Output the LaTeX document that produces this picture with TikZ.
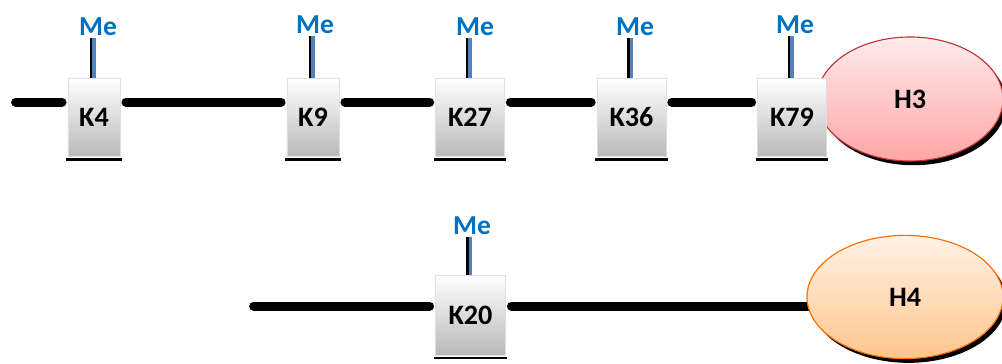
\documentclass[tikz,border=0pt]{standalone}
\usepackage{fontspec}
\setmainfont{Carlito}
\usepackage{tikz}
\usetikzlibrary{shapes.geometric}
\usetikzlibrary{shadows}
\definecolor{meblue}{RGB}{0,112,192}
\definecolor{stickblue}{RGB}{79,129,189}
\tikzstyle{backbone} = [draw, line width=6.4pt, line cap=round, shorten <=4pt, shorten >=4pt]
\tikzstyle{kbox} = [rectangle, draw=gray!25, top color=white, bottom color=gray!55, minimum height=1.95cm, font=\bfseries\fontsize{20}{24}\selectfont, inner sep=0pt]
\tikzstyle{kshort} = [kbox, minimum width=1.3cm]
\tikzstyle{klong} = [kbox, minimum width=1.72cm]
\tikzstyle{melabel} = [text=meblue, font=\bfseries\fontsize{19.5}{22}\selectfont, inner sep=0.5pt]
\tikzstyle{histone} = [ellipse, thick, font=\bfseries\fontsize{20}{24}\selectfont, drop shadow={fill=black, opacity=1, shadow xshift=2.5pt, shadow yshift=-3pt}]
\tikzstyle{hthree} = [histone, draw=red!70!black!80, top color=red!8, bottom color=red!35, minimum width=4.65cm, minimum height=3.1cm]
\tikzstyle{hfour} = [histone, draw=orange!85!red, top color=orange!10, bottom color=orange!45, minimum width=4.9cm, minimum height=3.08cm]
\tikzstyle{boxfoot} = [draw, line width=1.8pt]
\tikzstyle{stickshade} = [draw, line width=2pt]
\tikzstyle{stick} = [draw=stickblue, line width=2.2pt]

\begin{document}
\begin{tikzpicture} [x=0.025cm, y=-0.025cm]
\useasboundingbox (0,0) rectangle (1002,363);

% Histone H3 tail

\coordinate (row3) at (10,102);

\node[hthree] (h3) at (910,99) {H3};

\node[kshort] (k4) at (94,117.5) {K4};
\node[kshort] (k9) at (313,117.5) {K9};
\node[klong] (k27) at (470,117.5) {K27};
\node[klong] (k36) at (631.5,117.5) {K36};
\node[klong] (k79) at (792,117.5) {K79};

\node[melabel] (mek4) at (98,27) {Me};
\node[melabel] (mek9) at (315,25) {Me};
\node[melabel] (mek27) at (475,27) {Me};
\node[melabel] (mek36) at (635,27) {Me};
\node[melabel] (mek79) at (795,25) {Me};

\draw[backbone] (row3) -- (k4.west |- row3);
\foreach \a/\b in {k4/k9, k9/k27, k27/k36, k36/k79}
  \draw[backbone] (\a.east |- row3) -- (\b.west |- row3);

% Histone H4 tail

\coordinate (row4) at (248,306);

\node[kbox, minimum width=1.75cm, minimum height=2cm] (k20) at (470.5,315) {K20};

\node[melabel] (mek20) at (472,226) {Me};

\draw[backbone] (row4) -- (k20.west |- row4);
\draw[backbone, shorten >=-2pt] (k20.east |- row4) -- (905,306);

\node[hfour] (h4) at (905,297) {H4};

% Methyl sticks and box feet

\foreach \k in {k4, k9, k27, k36, k79, k20} {
  \draw[stickshade] ([xshift=-2pt,yshift=-1pt]me\k.south -| \k.north) -- ([xshift=-2pt]\k.north);
  \draw[stick] ([yshift=-1pt]me\k.south -| \k.north) -- (\k.north);
  \draw[boxfoot] ([xshift=-1pt,yshift=-1.8pt]\k.south west) -- ([xshift=1pt,yshift=-1.8pt]\k.south east);
}

\end{tikzpicture}
\end{document}
